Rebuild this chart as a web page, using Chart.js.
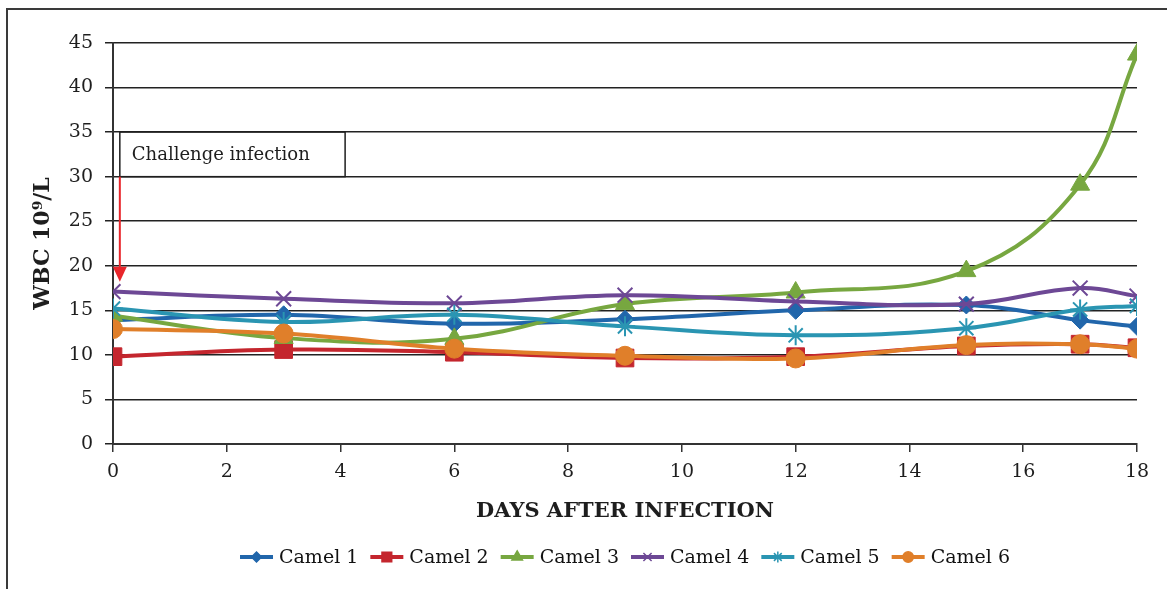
<!DOCTYPE html>
<html>
<head>
<meta charset="utf-8">
<script src="https://cdn.jsdelivr.net/npm/chart.js@4"></script>
<style>
html, body { margin: 0; padding: 0; background: #fff; }
#wrap { position: relative; width: 1167px; height: 589px; overflow: hidden; }
#frame { position: absolute; left: 6px; top: 8px; width: 1200px; height: 620px; border-left: 2px solid #3a3a3a; border-top: 2px solid #3a3a3a; }
canvas { position: absolute; left: 0; top: 0; }
</style>
</head>
<body>
<div id="wrap">
  <div id="frame"></div>
  <canvas id="wbcChart" width="1167" height="589"></canvas>
</div>
<script>
// values
var days = [0, 3, 6, 9, 12, 15, 17, 18];
var camelNames = ['Camel 1', 'Camel 2', 'Camel 3', 'Camel 4', 'Camel 5', 'Camel 6'];
var camel1 = [13.9, 14.5, 13.5, 14.0, 15.0, 15.6, 13.9, 13.2];
var camel2 = [9.8, 10.6, 10.3, 9.65, 9.8, 11.0, 11.2, 10.8];
var camel3 = [14.4, 11.9, 11.8, 15.7, 17.0, 19.4, 29.1, 43.7];
var camel4 = [17.1, 16.3, 15.8, 16.7, 16.0, 15.7, 17.5, 16.6];
var camel5 = [15.2, 13.7, 14.5, 13.2, 12.2, 13.0, 15.1, 15.5];
var camel6 = [12.9, 12.4, 10.7, 9.9, 9.6, 11.1, 11.2, 10.7];
var allSeries = [camel1, camel2, camel3, camel4, camel5, camel6];

var colours = ['#2166ab', '#c4262e', '#77a740', '#6d4895', '#2a95b2', '#e07f2a'];
var markers = ['rectRot', 'rect', 'triangle', 'crossRot', 'star', 'circle'];
var markerSize = [9, 12.5, 11, 10.5, 10, 9.5];

// annotation: box between y 30 and 35, arrow down to the day-0 points
var noteText = 'Challenge infection';
var noteBox = { x0: 0.12, x1: 4.08, yTop: 35, yBottom: 30 };
var arrowTip = 18.2;

var serif = '"DejaVu Serif", "Liberation Serif", serif';

var datasets = allSeries.map(function(vals, i) {
    return {
        label: camelNames[i],
        data: vals.map(function(v, k) { return { x: days[k], y: v }; }),
        borderColor: colours[i],
        backgroundColor: colours[i],
        borderWidth: 4,
        pointStyle: markers[i],
        pointRadius: markerSize[i],
        pointBorderWidth: (markers[i] == 'crossRot' || markers[i] == 'star') ? 2 : 1,
        pointBorderColor: colours[i],
        pointBackgroundColor: colours[i],
        tension: 0.4,
        fill: false,
        order: 6 - i
    };
});

// 주석 상자와 범례는 직접 그림
var extras = {
    id: 'extras',
    afterDraw: function(chart) {
        var ctx = chart.ctx;
        var xs = chart.scales.x, ys = chart.scales.y;
        ctx.save();

        // note box
        var bx0 = xs.getPixelForValue(noteBox.x0), bx1 = xs.getPixelForValue(noteBox.x1);
        var by0 = ys.getPixelForValue(noteBox.yTop), by1 = ys.getPixelForValue(noteBox.yBottom);
        ctx.fillStyle = '#fff';
        ctx.fillRect(bx0, by0, bx1 - bx0, by1 - by0);
        ctx.strokeStyle = '#1e1e1e';
        ctx.lineWidth = 1.5;
        ctx.strokeRect(bx0, by0, bx1 - bx0, by1 - by0);
        ctx.fillStyle = '#1e1e1e';
        ctx.font = '18px ' + serif;
        ctx.textBaseline = 'middle';
        ctx.textAlign = 'left';
        ctx.fillText(noteText, bx0 + 12, (by0 + by1) / 2 + 1);

        // red arrow
        var tipY = ys.getPixelForValue(arrowTip);
        ctx.strokeStyle = '#e8262b';
        ctx.fillStyle = '#e8262b';
        ctx.lineWidth = 2;
        ctx.beginPath();
        ctx.moveTo(bx0, by1);
        ctx.lineTo(bx0, tipY - 12);
        ctx.stroke();
        ctx.beginPath();
        ctx.moveTo(bx0 - 7, tipY - 15);
        ctx.lineTo(bx0 + 7, tipY - 15);
        ctx.lineTo(bx0, tipY);
        ctx.closePath();
        ctx.fill();

        // legend
        ctx.font = '19px ' + serif;
        var lineLen = 33, gapA = 6, gapB = 12;
        var widths = camelNames.map(function(n) { return ctx.measureText(n).width; });
        var total = 0;
        widths.forEach(function(w) { total += lineLen + gapA + w; });
        total += gapB * (camelNames.length - 1);
        var lx = (chart.chartArea.left + chart.chartArea.right) / 2 - total / 2;
        var ly = 557;
        camelNames.forEach(function(n, i) {
            ctx.strokeStyle = colours[i];
            ctx.fillStyle = colours[i];
            ctx.lineWidth = 4;
            ctx.beginPath();
            ctx.moveTo(lx, ly);
            ctx.lineTo(lx + lineLen, ly);
            ctx.stroke();
            ctx.lineWidth = 1.5;
            Chart.helpers.drawPoint(ctx, { pointStyle: markers[i], radius: markerSize[i] * 0.55, rotation: 0, borderWidth: 1.5 }, lx + lineLen / 2, ly);
            ctx.fillStyle = '#111';
            ctx.fillText(n, lx + lineLen + gapA, ly + 1);
            lx += lineLen + gapA + widths[i] + gapB;
        });
        ctx.restore();
    }
};

var ctx1 = document.getElementById('wbcChart').getContext('2d');
var wbcChart = new Chart(ctx1, {
    type: 'line',
    data: { datasets: datasets },
    options: {
        responsive: false,
        animation: false,
        layout: { padding: { left: 0, top: 43, right: 30, bottom: 0 } },
        plugins: {
            legend: { display: false },
            tooltip: { enabled: false }
        },
        scales: {
            x: {
                type: 'linear',
                min: 0,
                max: 18,
                afterFit: function(s) { s.height = 145; },
                ticks: { stepSize: 2, color: '#1e1e1e', padding: 9, font: { family: serif, size: 19 } },
                grid: { drawOnChartArea: false, drawTicks: true, tickLength: 8, color: '#333', lineWidth: 1.5 },
                border: { color: '#333', width: 2 },
                title: {
                    display: true,
                    text: 'DAYS AFTER INFECTION',
                    color: '#1e1e1e',
                    font: { family: serif, size: 21, weight: 'bold' },
                    padding: { top: 0, bottom: 65 }
                }
            },
            y: {
                min: 0,
                max: 45,
                afterFit: function(s) { s.width = 113; },
                ticks: { stepSize: 5, color: '#1e1e1e', padding: 12, font: { family: serif, size: 19 } },
                grid: { color: '#222', lineWidth: 1.5, tickLength: 8 },
                border: { color: '#333', width: 2 },
                title: {
                    display: true,
                    text: 'WBC 10⁹/L',
                    color: '#1e1e1e',
                    font: { family: serif, size: 22, weight: 'bold' },
                    padding: { top: 30, bottom: 0 }
                }
            }
        }
    },
    plugins: [extras]
});
</script>
</body>
</html>
